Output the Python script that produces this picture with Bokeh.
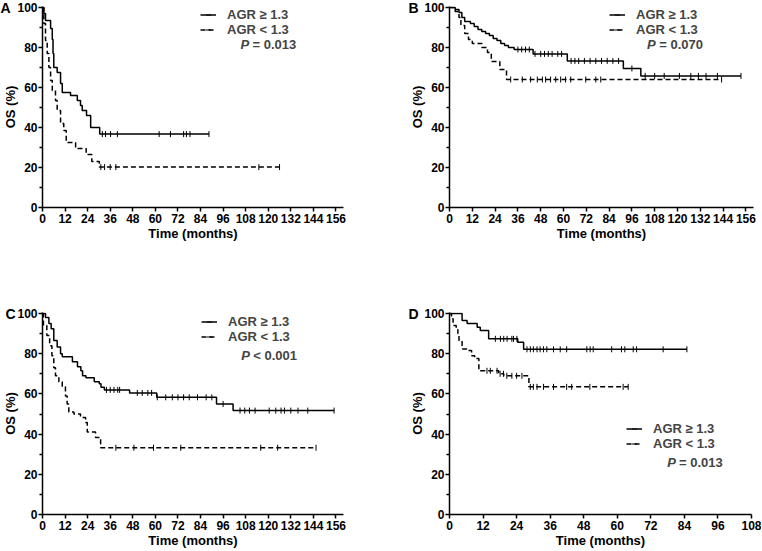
import numpy as np
from bokeh.plotting import figure
from bokeh.layouts import column, row
from bokeh.models import Range1d, FixedTicker, Label, Legend, LegendItem
from bokeh.embed import file_html
from bokeh.resources import INLINE

FONT = "Liberation Sans"

# ---------------- data ----------------
# Panel A
a_hi_t = [0, 0.7, 1.6, 4.3, 5.2, 5.6, 6.0, 7.8, 9.6, 10.5, 14.9, 18.5, 20.2, 21.1, 23.4, 25.6, 30.4, 88.5]
a_hi_s = [100, 97, 93.5, 89.5, 84, 77, 70, 67.5, 62, 57.5, 56, 53.5, 51, 48.5, 46, 40, 36.7, 36.7]
a_hi_c = [31.8, 33.5, 36.2, 39.8, 62, 68, 75, 76.5, 78.4, 88.5]
a_lo_t = [0, 0.7, 1.6, 2.5, 3.4, 4.3, 5.2, 6.9, 7.8, 9.6, 11.3, 12.6, 17.6, 23.2, 26.2, 30.2, 126]
a_lo_s = [100, 92, 83.5, 77, 70, 63.5, 58.5, 53.5, 48.5, 42, 38.5, 32.5, 29.5, 26.5, 23, 20.2, 20.2]
a_lo_c = [31, 33, 36, 39, 115, 126]

# Panel B
b_hi_t = [0, 3, 5, 6.5, 8, 11, 13, 15, 17, 19, 21, 23, 25, 27, 29, 31, 34, 44, 62, 91.5, 100.7, 153.4]
b_hi_s = [100, 99, 97.5, 95, 93, 92, 90.5, 89, 88, 87, 86, 84.5, 83.5, 82, 81, 80, 79, 76.8, 73.3, 69.5, 65.8, 65.8]
b_hi_c = [36, 38, 40, 42, 45, 48, 50, 52, 54, 57, 59, 64, 66, 68, 71, 74, 77, 80, 83, 86, 89, 96,
          103, 108, 113, 121, 127, 131, 135, 141, 153.4]
b_lo_t = [0, 3, 5, 6, 8, 10, 12, 17, 20, 22, 26.5, 30, 143.2]
b_lo_s = [100, 98, 95, 91, 87, 84, 82, 80, 77.5, 73, 69, 64, 64]
b_lo_c = [32.2, 38.3, 42.7, 46.2, 48.9, 50.6, 53.2, 55.9, 58.5, 61.1, 63.8, 71.7, 77, 79.6, 143.2]

# Panel C
c_hi_t = [0, 1.6, 3.4, 4.6, 6.0, 7.8, 9.6, 10.5, 15.9, 18.6, 20.4, 21.3, 23.1, 27.5, 30.2, 31.1, 32.9,
          46.3, 60.7, 92.5, 101.3, 155]
c_hi_s = [100, 98, 95, 92.4, 86.6, 83.3, 80, 78.5, 76, 73.5, 71.5, 69, 68, 66, 65, 63.3, 62,
          60.5, 58.3, 55, 51.7, 51.7]
c_hi_c = [34, 36, 38, 40, 41, 50.4, 53, 56, 58, 61, 65.5, 69, 72, 75, 78, 82.4, 87, 90, 96,
          105, 107.5, 110, 113, 120.5, 124, 126.8, 128.6, 132, 135.8, 141, 155]
c_lo_t = [0, 0.5, 2.3, 3.8, 5.0, 6.0, 6.9, 8.7, 10.5, 12.2, 13.1, 14.0, 16.7, 20.2, 22.9, 23.8, 28.2, 30.9, 145.4]
c_lo_s = [100, 94, 89, 84, 79, 73, 69, 66, 63.5, 59, 55, 51, 50, 48.3, 45.8, 41, 38.3, 33.2, 33.2]
c_lo_c = [39, 48.6, 59, 73.5, 116, 125, 145.4]

# Panel D
d_hi_t = [0, 4.5, 6.3, 9.9, 11.0, 14.0, 24.4, 26.5, 84.9]
d_hi_s = [100, 96.5, 95, 93.2, 91.5, 87.4, 85.7, 82.2, 82.2]
d_hi_c = [16.4, 18.2, 19.4, 20.6, 22.3, 22.9, 24.1, 27.7, 28.9, 30, 31.3, 32.4, 33.6, 34.8, 37.2,
          39.6, 41.9, 49.1, 50.3, 51.4, 58, 61.5, 62.7, 65.7, 66.9, 76.4, 84.9]
d_lo_t = [0, 0.7, 1.3, 2.4, 3.0, 3.4, 4.5, 6.7, 7.9, 9.0, 10.5, 17.6, 19.4, 28.4, 63.9]
d_lo_s = [100, 97.4, 94, 92, 90, 86.6, 82.4, 81.6, 79, 77.6, 71.5, 70, 69, 63.5, 63.5]
d_lo_c = [13.4, 14.6, 17, 18.1, 19.3, 20.5, 22.3, 24, 25.9, 28.9, 30, 31.3, 33.6, 37.2, 41.9, 43.7,
          50.2, 62.1, 63.9]

labels = ["AGR \u2265 1.3", "AGR < 1.3"]
p_texts = ["= 0.013", "= 0.070", "< 0.001", "= 0.013"]
panel_letters = ["A", "B", "C", "D"]
x_max = [160, 160, 160, 108]
y_ticks = [0, 20, 40, 60, 80, 100]
y_minor = [10, 30, 50, 70, 90]


def step_val(ts, ss, c):
    ts = np.asarray(ts)
    ss = np.asarray(ss)
    idx = np.searchsorted(ts, np.asarray(c), side="right") - 1
    return ss[idx]


def panel(width, height, xmax, borders, hi, lo, letter, letter_off, leg_loc, ptext, p_xy):
    bl, br, bt, bb = borders
    p = figure(width=width, height=height, x_range=Range1d(0, xmax), y_range=Range1d(0, 100.5),
               output_backend="svg", toolbar_location=None, tools="",
               min_border_left=bl, min_border_right=br, min_border_top=bt, min_border_bottom=bb)
    p.outline_line_color = None
    p.xgrid.visible = False
    p.ygrid.visible = False
    for ax in (p.xaxis[0], p.yaxis[0]):
        ax.axis_line_width = 1.5
        ax.axis_line_color = "black"
        ax.major_tick_line_width = 1.5
        ax.minor_tick_line_width = 1.5
        ax.major_tick_line_color = "black"
        ax.minor_tick_line_color = "black"
        ax.major_tick_out = 4
        ax.major_tick_in = 0
        ax.minor_tick_out = 3
        ax.minor_tick_in = 0
        ax.major_label_text_font = FONT
        ax.major_label_text_font_style = "bold"
        ax.major_label_text_font_size = "12px"
        ax.major_label_text_color = "black"
        ax.axis_label_text_font = FONT
        ax.axis_label_text_font_style = "bold"
        ax.axis_label_text_font_size = "13px"
        ax.axis_label_text_color = "black"
    p.xaxis.major_label_standoff = 2
    p.xaxis.axis_label_standoff = 0
    p.yaxis.major_label_standoff = 1
    p.yaxis.axis_label_standoff = -4
    p.xaxis.ticker = FixedTicker(ticks=list(range(0, xmax + 1, 12)))
    p.yaxis.ticker = FixedTicker(ticks=y_ticks, minor_ticks=y_minor)
    p.xaxis.axis_label = "Time (months)"
    p.yaxis.axis_label = "OS (%)"

    # panel letter as the plot title, pulled to the top-left corner
    p.title.text = letter
    p.title.align = "left"
    p.title.offset = letter_off
    p.title.standoff = -18
    p.title.text_font = FONT
    p.title.text_font_style = "bold"
    p.title.text_font_size = "14px"
    p.title.text_color = "black"

    items = []
    for (ts, ss, cs), dash, lab in zip((hi, lo), ("solid", "5 3"), labels):
        r1 = p.step(x=ts, y=ss, mode="after", line_color="black", line_width=1.5, line_dash=dash)
        r2 = p.scatter(x=cs, y=step_val(ts, ss, cs), marker="dash", angle=np.pi / 2, size=6,
                       line_color="black", line_width=1)
        items.append(LegendItem(label=lab, renderers=[r1, r2]))
    leg = Legend(items=items, location=leg_loc, background_fill_alpha=0, border_line_alpha=0,
                 label_text_font=FONT, label_text_font_style="bold", label_text_font_size="13px",
                 glyph_width=16, glyph_height=13, label_height=13, label_standoff=11, spacing=0,
                 padding=0, margin=0)
    p.add_layout(leg)

    p.add_layout(Label(x=p_xy[0], y=p_xy[1], text="P", text_font=FONT, text_font_style="bold italic",
                       text_font_size="13px", text_baseline="middle"))
    p.add_layout(Label(x=p_xy[2], y=p_xy[1], text=ptext, text_font=FONT, text_font_style="bold",
                       text_font_size="13px", text_baseline="middle"))
    return p


pa = panel(381, 272, x_max[0], (42, 38, 6, 65),
           (a_hi_t, a_hi_s, a_hi_c), (a_lo_t, a_lo_s, a_lo_c),
           panel_letters[0], -42, (158, 170.5), p_texts[0], (105.3, 81.5, 111.6))
pb = panel(380, 272, x_max[1], (68, 8, 6, 65),
           (b_hi_t, b_hi_s, b_hi_c), (b_lo_t, b_lo_s, b_lo_c),
           panel_letters[1], -41, (160, 170.5), p_texts[1], (104.0, 81.5, 110.4))
pc = panel(381, 278, x_max[2], (42, 38, 40, 36),
           (c_hi_t, c_hi_s, c_hi_c), (c_lo_t, c_lo_s, c_lo_c),
           panel_letters[2], -37, (159, 170.5), p_texts[2], (105.6, 79.1, 112.0))
pd_ = panel(380, 278, x_max[3], (68, 10, 40, 36),
            (d_hi_t, d_hi_s, d_hi_c), (d_lo_t, d_lo_s, d_lo_c),
            panel_letters[3], -41, (177, 63.5), p_texts[3], (77.9, 25.9, 82.1))

layout = column(row(pa, pb), row(pc, pd_))
open("out.html", "w").write(file_html(layout, INLINE))
